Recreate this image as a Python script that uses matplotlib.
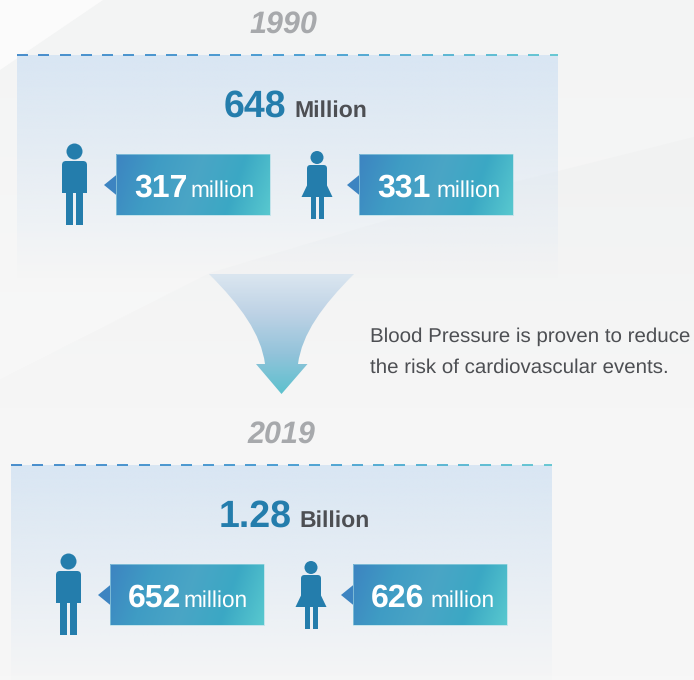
import numpy as np
import matplotlib
matplotlib.use("Agg")
import matplotlib.pyplot as plt
from matplotlib.colors import LinearSegmentedColormap, to_rgb
from matplotlib.patches import Circle, FancyBboxPatch, PathPatch, Polygon, Rectangle
from matplotlib.path import Path

# Values shown on the chart
years = ["1990", "2019"]
total_values = ["648", "1.28"]
total_units = ["Million", "Billion"]
male_values = ["317", "652"]
female_values = ["331", "626"]
value_unit = "million"
note_lines = ["Blood Pressure is proven to reduce", "the risk of cardiovascular events."]

BLUE = "#247dac"
DARK = "#4d4f53"
GREY = "#a7a9ac"

plt.rcParams["font.family"] = ["Liberation Sans", "DejaVu Sans"]
plt.rcParams["text.hinting"] = "none"

fig = plt.figure(figsize=(6.94, 6.80), dpi=100)
ax = fig.add_axes([0, 0, 1, 1])
ax.set_xlim(0, 694)
ax.set_ylim(680, 0)
ax.axis("off")

callout_cmap = LinearSegmentedColormap.from_list(
    "callout", ["#3d84c1", "#3f9cc4", "#4aa5c6", "#3ba8c4", "#58c8cf"])
arrow_cmap = LinearSegmentedColormap.from_list(
    "arrow", ["#dbe6f0", "#bdd2e5", "#93c3da", "#5dc1ce"])
dash_cmap = LinearSegmentedColormap.from_list("dash", ["#3a85c8", "#3f98d0", "#5cc5d0"])
upper_cmap = LinearSegmentedColormap.from_list("upper", ["#f3f4f4", "#f8f8f8"])
lower_cmap = LinearSegmentedColormap.from_list("lower", ["#f1f2f2", "#f6f6f6", "#f7f7f7"])


# Fill a box with a gradient, clipped to a patch if one is given
def gradient(arr, box, clip=None, cmap=None, zorder=2):
    im = ax.imshow(arr, extent=box, cmap=cmap, aspect="auto", zorder=zorder,
                   interpolation="bilinear", vmin=0, vmax=1)
    if clip is not None:
        ax.add_patch(clip)
        im.set_clip_path(clip)
    return im


# Page background with the pale facets
ramp_y = np.linspace(0, 1, 120).reshape(-1, 1)
ax.add_patch(Rectangle((0, 0), 694, 680, fc="#f6f6f6", ec="none", zorder=0))
gradient(ramp_y, (0, 694, 390, 0),
         Polygon([(0, 70), (103, 0), (694, 0), (694, 137), (515, 182), (210, 273), (0, 380)],
                 fc="none", ec="none", transform=ax.transData), upper_cmap, zorder=0.1)
gradient(ramp_y, (0, 694, 680, 137),
         Polygon([(0, 380), (210, 273), (515, 182), (694, 137), (694, 680), (0, 680)],
                 fc="none", ec="none", transform=ax.transData), lower_cmap, zorder=0.1)
ax.add_patch(Polygon([(0, 0), (103, 0), (0, 70)], fc="#fbfbfb", ec="none", zorder=0.2))


def person_male(cx, top):
    ax.add_patch(Circle((cx, top + 8.5), 8, fc=BLUE, ec="none", zorder=3))
    ax.add_patch(Rectangle((cx - 12.5, top + 22), 25, 28, fc=BLUE, ec="none", zorder=3))
    ax.add_patch(FancyBboxPatch((cx - 12.5, top + 18), 25, 12,
                                boxstyle="round,pad=0,rounding_size=4", fc=BLUE, ec="none", zorder=3))
    ax.add_patch(Rectangle((cx - 8.2, top + 49), 7, 33, fc=BLUE, ec="none", zorder=3))
    ax.add_patch(Rectangle((cx + 1.5, top + 49), 7, 33, fc=BLUE, ec="none", zorder=3))


def person_female(cx, top):
    ax.add_patch(Circle((cx, top + 7), 6.5, fc=BLUE, ec="none", zorder=3))
    ax.add_patch(FancyBboxPatch((cx - 10, top + 14.5), 20, 12,
                                boxstyle="round,pad=0,rounding_size=3.5", fc=BLUE, ec="none", zorder=3))
    ax.add_patch(Polygon([(cx - 10, top + 20), (cx + 10, top + 20), (cx + 10, top + 35),
                          (cx + 15.5, top + 46.5), (cx - 15.5, top + 46.5), (cx - 10, top + 35)],
                         fc=BLUE, ec="none", zorder=3))
    ax.add_patch(Rectangle((cx - 6.2, top + 45), 5.3, 23, fc=BLUE, ec="none", zorder=3))
    ax.add_patch(Rectangle((cx + 1.8, top + 45), 5.3, 23, fc=BLUE, ec="none", zorder=3))


def callout(x, y, value, value_gap):
    w, h = 154, 61
    ax.add_patch(Polygon([(x + 1, y + 20), (x - 12.5, y + 31), (x + 1, y + 42)],
                         fc="#3d84c1", ec="none", zorder=3))
    xx, yy = np.meshgrid(np.linspace(0, 1, 200), np.linspace(0, 1, 80))
    ramp = np.clip(xx * 0.88 + yy * 0.12, 0, 1)
    clip = Rectangle((x, y), w, h, fc="none", ec="none", transform=ax.transData)
    gradient(ramp, (x, x + w, y + h, y), clip, callout_cmap, zorder=3)
    ax.add_patch(Rectangle((x, y), w, h, fc="none", ec="#a8dbe4", lw=0.6, alpha=0.7, zorder=3.5))
    ax.text(x + 17.5, y + 43, value, color="white", fontsize=23, fontweight="bold", zorder=4)
    ax.text(x + 17.5 + value_gap, y + 43, value_unit, color="white", fontsize=16.3, zorder=4)


def panel(i, dx, dy, male_gap, female_gap):
    x0, x1 = 17 + dx, 558 + dx
    top = 55 + dy
    # Panel fades out into the page
    fade = np.zeros((100, 2, 4))
    fade[:, :, :3] = to_rgb("#d9e6f3")
    fade[:, :, 3] = np.linspace(1, 0, 100).reshape(-1, 1)
    ax.imshow(fade, extent=(x0, x1, top + 225, top), aspect="auto", zorder=1,
              interpolation="bilinear")
    # Dashes go from blue to teal along the top edge
    start = x0
    while start < x1:
        c = dash_cmap((start - x0) / (x1 - x0))
        ax.plot([start, min(start + 11, x1)], [top, top], color=c, lw=1.3,
                solid_capstyle="butt", zorder=2)
        start += 21.3

    ax.text(283 + dx * 0.2, 33 + dy, years[i], color=GREY, fontsize=22, fontweight="bold",
            fontstyle="italic", ha="center", zorder=4)
    person_male(74.5 + dx, 143 + dy)
    person_female(317 + dx, 150.5 + dy)
    callout(116.5 + dx, 154 + dy, male_values[i], male_gap)
    callout(359.5 + dx, 154 + dy, female_values[i], female_gap)


panel(0, 0, 0, 57, 60)
panel(1, -6, 410, 56, 60)

# Headline totals
ax.text(224, 116.5, total_values[0], color=BLUE, fontsize=27, fontweight="bold", zorder=4)
ax.text(294, 116.5, total_units[0], color=DARK, fontsize=16.6, fontweight="bold", zorder=4)
ax.text(219, 526.5, total_values[1], color=BLUE, fontsize=27, fontweight="bold", zorder=4)
ax.text(299, 526.5, total_units[1], color=DARK, fontsize=16.6, fontweight="bold", zorder=4)

# Funnel arrow between the two panels
verts = [(209, 274), (354, 274),
         (322, 306), (302, 334), (298, 364),
         (307.5, 364), (281.5, 394), (256, 364), (265, 364),
         (261, 334), (241, 306), (209, 274), (209, 274)]
codes = [Path.MOVETO, Path.LINETO,
         Path.CURVE4, Path.CURVE4, Path.CURVE4,
         Path.LINETO, Path.LINETO, Path.LINETO, Path.LINETO,
         Path.CURVE4, Path.CURVE4, Path.CURVE4, Path.CLOSEPOLY]
arrow = PathPatch(Path(verts, codes), fc="none", ec="none", transform=ax.transData)
gradient(ramp_y, (205, 358, 394, 274), arrow, arrow_cmap, zorder=3)

for line, y in zip(note_lines, [341.5, 373]):
    ax.text(370, y, line, color=DARK, fontsize=14.75, zorder=4)

ax.set_xlim(0, 694)
ax.set_ylim(680, 0)
fig.savefig("out.png", dpi=100)
